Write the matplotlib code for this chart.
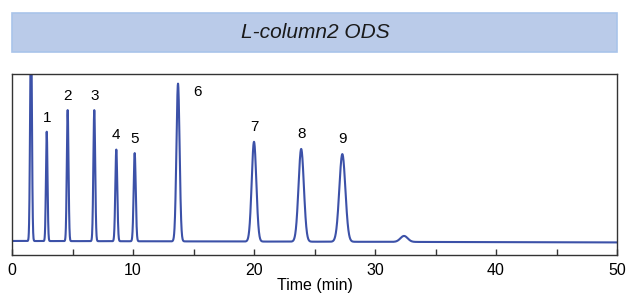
import matplotlib.pyplot as plt
import numpy as np
from matplotlib.patches import Rectangle

plt.rcParams['font.family'] = ['Liberation Sans', 'DejaVu Sans']

# peak table (time in min, height above baseline, width sigma in min)
peak_times = [1.57, 2.87, 4.60, 6.80, 8.62, 10.14, 13.72, 20.0, 23.9, 27.3, 32.4]
peak_heights = [130, 60.5, 72.5, 72.5, 50.7, 48.8, 87.3, 55.2, 51.3, 48.5, 3.3]
peak_widths = [0.07, 0.065, 0.07, 0.075, 0.08, 0.085, 0.13, 0.19, 0.22, 0.25, 0.3]
peak_labels = ['', '1', '2', '3', '4', '5', '6', '7', '8', '9', '']
baseline_start, baseline_end = 7.6, 6.8

title = 'L-column2 ODS'
xticks = [0, 10, 20, 30, 40, 50]

t = np.linspace(0, 50, 5001)
signal = baseline_start + (baseline_end - baseline_start) * t / 50
for rt, h, w in zip(peak_times, peak_heights, peak_widths):
    signal = signal + h * np.exp(-0.5 * ((t - rt) / w) ** 2)

fig = plt.figure(figsize=(6.27, 2.93), dpi=100)

# banner with the column name
fig.patches.append(Rectangle((12 / 627, 1 - 52 / 293), 605 / 627, 39 / 293,
                             transform=fig.transFigure, facecolor='#bacbe9',
                             edgecolor='#a9c4ea', linewidth=1.2))
fig.text(315 / 627, 1 - 33 / 293, title, ha='center', va='center',
         fontsize=15, style='italic', color='#1a1a1a')

ax = fig.add_axes([12 / 627, 38.3 / 293, 605 / 627, 180.7 / 293])
ax.plot(t, signal, color='#3c51a8', lw=1.5, solid_joinstyle='round')
ax.set_xlim(0, 50)
ax.set_ylim(0, 100)
ax.set_yticks([])
ax.set_xticks(xticks)
ax.set_xticks(np.arange(5, 50, 10), minor=True)
ax.tick_params(axis='x', which='both', direction='in', length=4, width=1,
               color='#333333', labelsize=11.5, pad=6)
for s in ax.spines.values():
    s.set_color('#333333')
    s.set_linewidth(1)
ax.set_xlabel('Time (min)', fontsize=11.5, labelpad=0)

for rt, h, lab in zip(peak_times, peak_heights, peak_labels):
    if not lab:
        continue
    top = baseline_start + h
    if lab == '6':
        ax.annotate(lab, (rt, top), xytext=(14, -6), textcoords='offset points',
                    ha='center', va='center', fontsize=11)
    else:
        ax.annotate(lab, (rt, top), xytext=(0, 10), textcoords='offset points',
                    ha='center', va='center', fontsize=11)

fig.savefig('out.png', dpi=100)
